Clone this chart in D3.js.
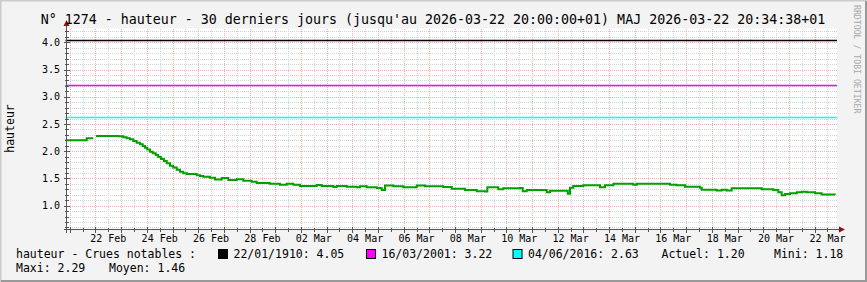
<!DOCTYPE html>
<html>
<head>
<meta charset="utf-8">
<script src="https://cdn.jsdelivr.net/npm/d3@7"></script>
<style>
  body { margin: 0; background: #fff; }
  svg text { font-family: "DejaVu Sans Mono", monospace; }
</style>
</head>
<body>
<div id="chart"></div>
<script>
/////////////////////////////////////////////////////
///////////////////// Data //////////////////////////
/////////////////////////////////////////////////////

// Times are local (+01), handled as UTC so that labels come out right.
const times = [
  "2026-02-20 20:00", "2026-02-21 15:50", "2026-02-21 22:00", "2026-02-21 23:00",
  "2026-02-22 00:30", "2026-02-22 21:20", "2026-02-23 02:00", "2026-02-23 05:10",
  "2026-02-23 08:15", "2026-02-23 11:20", "2026-02-23 14:30", "2026-02-23 17:40",
  "2026-02-23 20:10", "2026-02-23 22:20", "2026-02-24 00:25", "2026-02-24 03:00",
  "2026-02-24 05:30", "2026-02-24 08:20", "2026-02-24 10:40", "2026-02-24 13:10",
  "2026-02-24 16:00", "2026-02-24 18:35", "2026-02-24 21:40", "2026-02-25 00:40",
  "2026-02-25 03:55", "2026-02-25 07:00", "2026-02-25 10:05", "2026-02-25 13:20",
  "2026-02-25 22:35", "2026-02-26 01:40", "2026-02-26 04:45", "2026-02-26 11:00",
  "2026-02-26 15:40", "2026-02-26 22:00", "2026-02-27 04:10", "2026-02-27 12:00",
  "2026-02-27 18:10", "2026-02-28 02:00", "2026-02-28 06:40", "2026-02-28 19:00",
  "2026-03-01 04:25", "2026-03-01 10:40", "2026-03-01 16:55", "2026-03-01 23:05",
  "2026-03-02 14:40", "2026-03-02 19:25", "2026-03-03 06:15", "2026-03-03 09:25",
  "2026-03-03 18:45", "2026-03-04 04:05", "2026-03-04 07:10", "2026-03-04 13:30",
  "2026-03-04 22:50", "2026-03-05 03:30", "2026-03-05 06:35", "2026-03-05 14:20",
  "2026-03-05 23:40", "2026-03-06 12:10", "2026-03-06 20:00", "2026-03-07 13:00",
  "2026-03-07 20:55", "2026-03-08 09:20", "2026-03-08 20:15", "2026-03-09 04:00",
  "2026-03-09 06:10", "2026-03-09 16:25", "2026-03-09 21:05", "2026-03-10 12:40",
  "2026-03-10 15:15", "2026-03-10 19:00", "2026-03-11 13:40", "2026-03-11 16:45",
  "2026-03-12 09:20", "2026-03-12 11:25", "2026-03-12 14:30", "2026-03-12 23:55",
  "2026-03-13 15:30", "2026-03-13 20:10", "2026-03-14 04:00", "2026-03-14 22:35",
  "2026-03-15 01:50", "2026-03-16 08:55", "2026-03-16 15:05", "2026-03-16 22:55",
  "2026-03-17 12:55", "2026-03-17 14:30", "2026-03-18 04:30", "2026-03-18 09:10",
  "2026-03-18 13:55", "2026-03-18 18:30", "2026-03-19 22:35", "2026-03-20 09:25",
  "2026-03-20 14:05", "2026-03-20 17:15", "2026-03-20 20:25", "2026-03-21 01:00",
  "2026-03-21 07:20", "2026-03-21 12:00", "2026-03-21 16:35", "2026-03-22 00:25",
  "2026-03-22 06:35", "2026-03-22 19:00"
];
const hauteur = [
  2.20, 2.24, 2.24, null,
  2.28, 2.275, 2.257, 2.238,
  2.22, 2.19, 2.157, 2.128,
  2.097, 2.066, 2.03, 1.99,
  1.963, 1.93, 1.895, 1.858,
  1.82, 1.78, 1.735, 1.70,
  1.66, 1.625, 1.595, 1.58,
  1.56, 1.545, 1.53, 1.515,
  1.48, 1.51, 1.47, 1.485,
  1.46, 1.44, 1.417, 1.405,
  1.385, 1.404, 1.385, 1.36,
  1.38, 1.36, 1.345, 1.36,
  1.35, 1.34, 1.355, 1.34,
  1.325, 1.29, 1.37, 1.355,
  1.34, 1.37, 1.355, 1.345,
  1.31, 1.29, 1.265, 1.26,
  1.34, 1.30, 1.32, 1.325,
  1.265, 1.29, 1.245, 1.275,
  1.22, 1.33, 1.36, 1.375,
  1.34, 1.375, 1.405, 1.385,
  1.405, 1.385, 1.375, 1.35,
  1.33, 1.295, 1.28, 1.295,
  1.28, 1.32, 1.30, 1.29,
  1.245, 1.19, 1.215, 1.23,
  1.245, 1.255, 1.245, 1.23,
  1.205, 1.20
];

// Crues notables (HRULE lines)
const crueDates  = ["22/01/1910", "16/03/2001", "04/06/2016"];
const crueValues = [4.05, 3.22, 2.63];
const crueColors = ["#000000", "#ff00ff", "#00ffff"];

// Stats shown in the legend
const statLabels = ["Actuel", "Mini", "Maxi", "Moyen"];
const statValues = [1.20, 1.18, 2.29, 1.46];

const yTicks = [1.0, 1.5, 2.0, 2.5, 3.0, 3.5, 4.0];

const title = "N° 1274 - hauteur - 30 derniers jours (jusqu'au 2026-03-22 20:00:00+01) MAJ 2026-03-22 20:34:38+01";

/////////////////////////////////////////////////////
///////////////////// Setup /////////////////////////
/////////////////////////////////////////////////////

const width  = 867;
const height = 282;

const plot = { left: 65.5, right: 836, top: 28.5, bottom: 228.5 };

const parseTime = d3.utcParse("%Y-%m-%d %H:%M");
const tStart = parseTime("2026-02-20 20:00");
const tEnd   = parseTime("2026-03-22 20:00");

const data = times.map((t, i) => ({ t: parseTime(t), v: hauteur[i] }));

const x = d3.scaleUtc().domain([tStart, tEnd]).range([plot.left, plot.right]);
const y = d3.scaleLinear().domain([0.581, 4.255]).range([plot.bottom, plot.top]);

const minor_grid = "#d4d4d4";
const major_grid = "#f2b0b0";
const axis_color = "#555555";
const arrow_color = "#8b1010";
const line_color = "#00a000";

const svg = d3.select("#chart")
  .append("svg")
  .attr("width", width)
  .attr("height", height);

// Background and 3D-ish frame
svg.append("rect").attr("width", width).attr("height", height).attr("fill", "#f3f3f3");
svg.append("path").attr("d", `M0,${height} V0 H${width}`).attr("fill", "none")
  .attr("stroke", "#cbcbcb").attr("stroke-width", 3);
svg.append("path").attr("d", `M1,${height - 1} H${width - 1} V1`).attr("fill", "none")
  .attr("stroke", "#999999").attr("stroke-width", 2);

// Canvas
svg.append("rect")
  .attr("x", plot.left).attr("y", plot.top)
  .attr("width", plot.right - plot.left + 1).attr("height", plot.bottom - plot.top)
  .attr("fill", "#ffffff");

/////////////////////////////////////////////////////
///////////////////// Grid //////////////////////////
/////////////////////////////////////////////////////

const grid = svg.append("g").attr("class", "grid").attr("shape-rendering", "crispEdges");

// horizontal: 0.1 minor, 0.5 major
const hLines = d3.range(6, 43).map(d => d / 10);
grid.selectAll("line.h")
  .data(hLines)
  .enter().append("line")
  .attr("class", "h")
  .attr("x1", plot.left).attr("x2", plot.right + 1)
  .attr("y1", d => Math.round(y(d)) + 0.5)
  .attr("y2", d => Math.round(y(d)) + 0.5)
  .attr("stroke", d => (Math.round(d * 10) % 5 === 0) ? major_grid : minor_grid)
  .attr("stroke-dasharray", "1,1");

// vertical: 12h minor, 24h major
const vLines = d3.utcHour.every(12).range(tStart, tEnd);
grid.selectAll("line.v")
  .data(vLines)
  .enter().append("line")
  .attr("class", "v")
  .attr("y1", plot.top).attr("y2", plot.bottom)
  .attr("x1", d => Math.round(x(d)) + 0.5)
  .attr("x2", d => Math.round(x(d)) + 0.5)
  .attr("stroke", d => d.getUTCHours() === 0 ? major_grid : minor_grid)
  .attr("stroke-dasharray", "1,1");

/////////////////////////////////////////////////////
///////////////////// Rules + line //////////////////
/////////////////////////////////////////////////////

const rules = crueValues.map((v, i) => ({ v: v, color: crueColors[i] }));

svg.append("g").attr("class", "rules")
  .selectAll("line")
  .data(rules)
  .enter().append("line")
  .attr("x1", plot.left).attr("x2", plot.right + 1)
  .attr("y1", d => Math.round(y(d.v)) + 0.5)
  .attr("y2", d => Math.round(y(d.v)) + 0.5)
  .style("stroke", d => d.color)
  .style("stroke-width", "1.5px");

const line = d3.line()
  .defined(d => d.v != null)
  .x(d => x(d.t))
  .y(d => y(d.v))
  .curve(d3.curveStepAfter);

svg.append("path")
  .datum(data)
  .attr("d", line)
  .attr("fill", "none")
  .attr("stroke", line_color)
  .attr("stroke-width", 2);

/////////////////////////////////////////////////////
///////////////////// Axes //////////////////////////
/////////////////////////////////////////////////////

const axes = svg.append("g").attr("shape-rendering", "crispEdges");
const ax0 = Math.round(plot.left) + 0.5;
const ay0 = Math.round(plot.bottom) + 0.5;

axes.append("line").attr("x1", ax0).attr("x2", ax0).attr("y1", 23).attr("y2", ay0 + 3)
  .attr("stroke", axis_color);
axes.append("line").attr("x1", ax0 - 3).attr("x2", plot.right + 4).attr("y1", ay0).attr("y2", ay0)
  .attr("stroke", axis_color);

// tick marks on axes
axes.selectAll("line.yt")
  .data(hLines)
  .enter().append("line")
  .attr("class", "yt")
  .attr("x1", d => ax0 - ((Math.round(d * 10) % 5 === 0) ? 3 : 2))
  .attr("x2", d => ax0 + ((Math.round(d * 10) % 5 === 0) ? 3 : 2))
  .attr("y1", d => Math.round(y(d)) + 0.5)
  .attr("y2", d => Math.round(y(d)) + 0.5)
  .attr("stroke", axis_color);

axes.selectAll("line.xt")
  .data(vLines)
  .enter().append("line")
  .attr("class", "xt")
  .attr("x1", d => Math.round(x(d)) + 0.5)
  .attr("x2", d => Math.round(x(d)) + 0.5)
  .attr("y1", d => ay0 - (d.getUTCHours() === 0 ? 3 : 2))
  .attr("y2", d => ay0 + (d.getUTCHours() === 0 ? 3 : 2))
  .attr("stroke", axis_color);

// arrows
svg.append("path").attr("d", `M${ax0 - 3},${26} L${ax0 + 3},${26} L${ax0},${20} Z`).attr("fill", arrow_color);
svg.append("path").attr("d", `M${plot.right + 3},${ay0 - 3} L${plot.right + 3},${ay0 + 3} L${plot.right + 9},${ay0} Z`)
  .attr("fill", arrow_color);

// Y labels
svg.append("g").selectAll("text")
  .data(yTicks)
  .enter().append("text")
  .attr("x", 60)
  .attr("y", d => y(d) + 3.6)
  .attr("text-anchor", "end")
  .style("font-size", "10px")
  .attr("fill", "#000")
  .text(d3.format(".1f"));

// X labels: every second day, centred on noon
const labelDays = d3.utcDay.range(tStart, tEnd).filter(d => d.getUTCDate() % 2 === 0);
svg.append("g").selectAll("text")
  .data(labelDays)
  .enter().append("text")
  .attr("x", d => x(d3.utcHour.offset(d, 12)))
  .attr("y", 241.5)
  .attr("text-anchor", "middle")
  .style("font-size", "10px")
  .attr("fill", "#000")
  .text(d3.utcFormat("%d %b"));

/////////////////////////////////////////////////////
///////////////////// Texts /////////////////////////
/////////////////////////////////////////////////////

svg.append("text")
  .attr("x", 433).attr("y", 23.5)
  .attr("text-anchor", "middle")
  .style("font-size", "13.3px")
  .text(title);

svg.append("text")
  .attr("transform", `translate(14,${(plot.top + plot.bottom) / 2}) rotate(-90)`)
  .attr("text-anchor", "middle")
  .style("font-size", "11.5px")
  .text("hauteur");

svg.append("text")
  .attr("transform", "translate(854,5) rotate(90)")
  .style("font-size", "8.2px")
  .attr("fill", "#a8a8a8")
  .text("RRDTOOL / TOBI OETIKER");

// Legend
const legend = svg.append("g").style("font-size", "11.5px");
const row1 = 257.5, row2 = 271.5;

legend.append("text").attr("x", 16).attr("y", row1).text("hauteur - Crues notables :");

const crueX = [218.5, 366.5, 513];
crueDates.forEach((d, i) => {
  legend.append("rect")
    .attr("x", crueX[i]).attr("y", 249.5)
    .attr("width", 9).attr("height", 9)
    .attr("fill", crueColors[i])
    .attr("stroke", "#000").attr("stroke-width", 1);
  legend.append("text")
    .attr("x", crueX[i] + 15).attr("y", row1)
    .text(`${d}: ${crueValues[i].toFixed(2)}`);
});

legend.append("text").attr("x", 661.5).attr("y", row1).text(`${statLabels[0]}: ${statValues[0].toFixed(2)}`);
legend.append("text").attr("x", 774).attr("y", row1).text(`${statLabels[1]}: ${statValues[1].toFixed(2)}`);
legend.append("text").attr("x", 16).attr("y", row2).text(`${statLabels[2]}: ${statValues[2].toFixed(2)}`);
legend.append("text").attr("x", 109).attr("y", row2).text(`${statLabels[3]}: ${statValues[3].toFixed(2)}`);
</script>
</body>
</html>
